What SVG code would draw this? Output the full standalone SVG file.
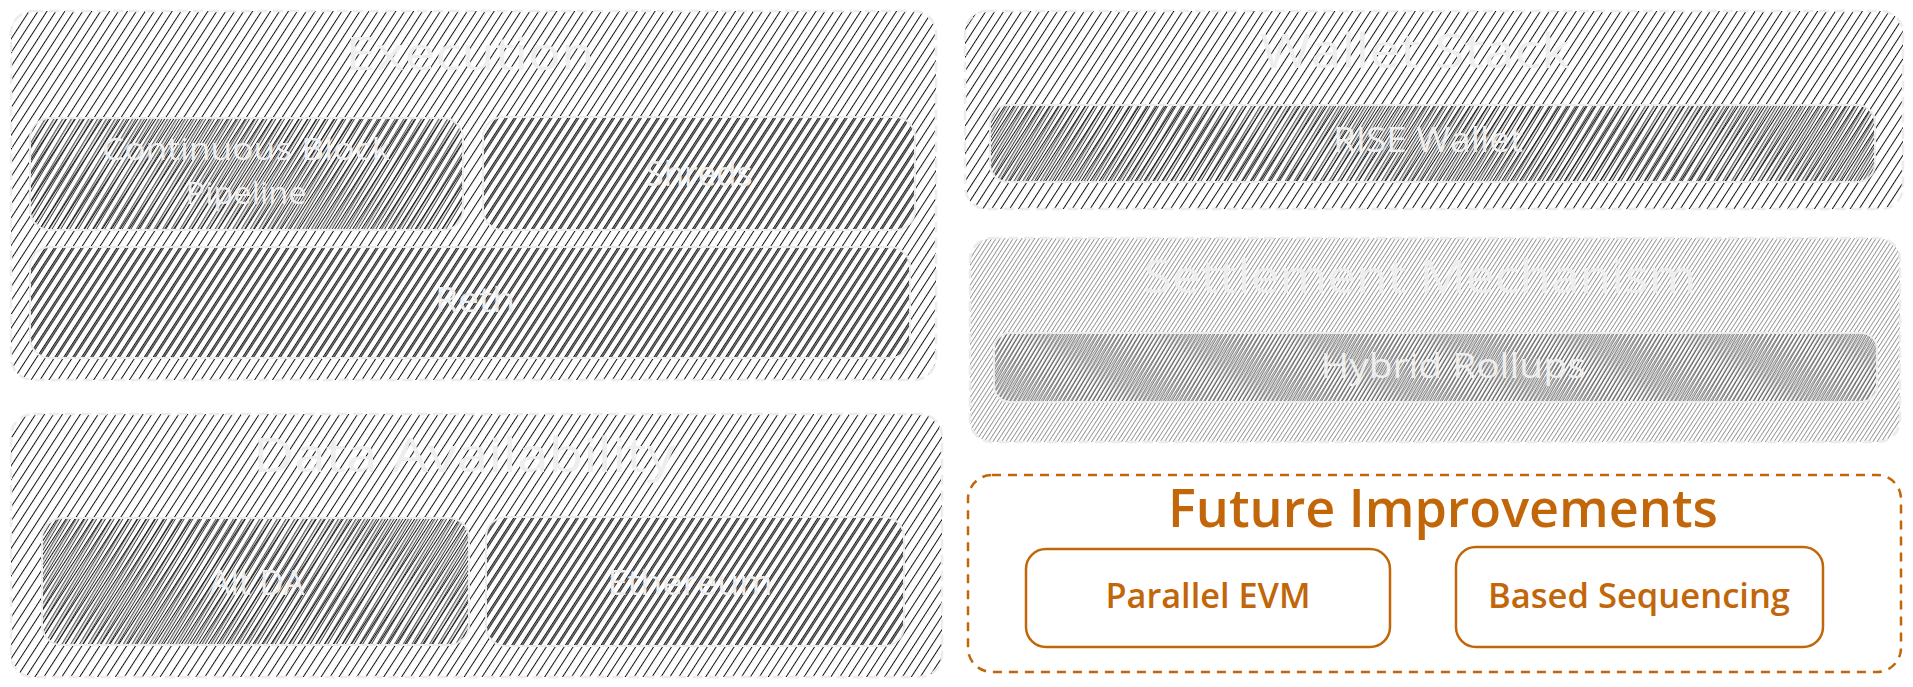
<svg xmlns="http://www.w3.org/2000/svg" width="1913" height="687" viewBox="0 0 1913 687">
<defs>
<pattern id="hA" patternUnits="userSpaceOnUse" width="7.5" height="20" patternTransform="rotate(33)">
<line x1="0.5" y1="0" x2="0.5" y2="20" stroke="#111" stroke-width="1"/>
</pattern>
<pattern id="hB" patternUnits="userSpaceOnUse" width="7.5" height="20" patternTransform="rotate(31)">
<line x1="2.6" y1="0" x2="2.6" y2="20" stroke="#111" stroke-width="0.9"/>
<line x1="5.1" y1="0" x2="5.1" y2="20" stroke="#222" stroke-width="0.9"/>
</pattern>
<pattern id="hC" patternUnits="userSpaceOnUse" width="7.5" height="20" patternTransform="rotate(33)">
<line x1="2" y1="0" x2="2" y2="20" stroke="#111" stroke-width="1.3"/>
</pattern>
<pattern id="hS" patternUnits="userSpaceOnUse" width="3.6" height="20" patternTransform="rotate(33)">
<line x1="0.5" y1="0" x2="0.5" y2="20" stroke="#888" stroke-width="0.9"/>
</pattern>
<pattern id="hH" patternUnits="userSpaceOnUse" width="3.6" height="20" patternTransform="rotate(30)">
<line x1="2" y1="0" x2="2" y2="20" stroke="#444" stroke-width="0.9"/>
</pattern>
</defs>
<style>
.grp{stroke:#ececec;stroke-width:2.5;stroke-dasharray:10 6}
.node{stroke:#ececec;stroke-width:2}
.t{font-family:"Open Sans","Liberation Sans",sans-serif;fill:#eeeeee;text-anchor:middle}
.o{font-family:"Open Sans","Liberation Sans",sans-serif;fill:#c2660a;text-anchor:middle}
.fgrp{fill:#fff;stroke:#c2660a;stroke-width:2.5;stroke-dasharray:9 7}
.fnode{fill:#fff;stroke:#c2660a;stroke-width:2.5}
</style>
<g id="connectors"/>
<g id="execution">
<rect x="11" y="11" width="925" height="369" rx="22" fill="url(#hA)" class="grp"/>
<text x="470" y="70" class="t" font-size="46" textLength="249" lengthAdjust="spacingAndGlyphs">Execution</text>
</g>
<g id="continuous-block-pipeline">
<rect x="30" y="118" width="433" height="112" rx="20" fill="url(#hB)" class="node"/>
<text x="246" y="160" class="t" font-size="31" textLength="288" lengthAdjust="spacingAndGlyphs">Continuous Block</text>
<text x="246" y="204" class="t" font-size="31" textLength="121" lengthAdjust="spacingAndGlyphs">Pipeline</text>
</g>
<g id="shreds">
<rect x="483" y="117" width="432" height="113" rx="20" fill="url(#hC)" class="node"/>
<text x="699" y="186" class="t" font-size="34" textLength="107" lengthAdjust="spacingAndGlyphs">Shreds</text>
</g>
<g id="reth">
<rect x="30" y="247" width="880" height="111" rx="20" fill="url(#hC)" class="node"/>
<text x="475" y="312" class="t" font-size="34" textLength="80" lengthAdjust="spacingAndGlyphs">Reth</text>
</g>
<g id="data-availability">
<rect x="11" y="414" width="931" height="263" rx="22" fill="url(#hA)" class="grp"/>
<text x="464" y="472" class="t" font-size="48" textLength="422" lengthAdjust="spacingAndGlyphs">Data Availability</text>
</g>
<g id="alt-da">
<rect x="42" y="518" width="427" height="127" rx="20" fill="url(#hB)" class="node"/>
<text x="257" y="595" class="t" font-size="34" textLength="95" lengthAdjust="spacingAndGlyphs">Alt DA</text>
</g>
<g id="ethereum">
<rect x="486" y="517" width="418" height="129" rx="20" fill="url(#hC)" class="node"/>
<text x="690" y="595" class="t" font-size="34" textLength="165" lengthAdjust="spacingAndGlyphs">Ethereum</text>
</g>
<g id="wallet-stack">
<rect x="965" y="11" width="938" height="198" rx="22" fill="url(#hA)" class="grp"/>
<text x="1415" y="68" class="t" font-size="48" textLength="310" lengthAdjust="spacingAndGlyphs">Wallet Stack</text>
</g>
<g id="rise-wallet">
<rect x="990" y="105" width="885" height="77" rx="18" fill="url(#hB)" class="node"/>
<text x="1428" y="152" class="t" font-size="34" textLength="190" lengthAdjust="spacingAndGlyphs">RISE Wallet</text>
</g>
<g id="settlement-mechanism">
<rect x="970" y="238" width="930" height="204" rx="22" fill="url(#hS)" class="grp"/>
<text x="1420" y="293" class="t" font-size="46" textLength="553" lengthAdjust="spacingAndGlyphs">Settlement Mechanism</text>
</g>
<g id="hybrid-rollups">
<rect x="994" y="333" width="883" height="69" rx="16" fill="url(#hH)" class="node"/>
<text x="1453" y="378" class="t" font-size="34" textLength="265" lengthAdjust="spacingAndGlyphs">Hybrid Rollups</text>
</g>
<g id="future-improvements">
<rect x="968" y="475" width="933" height="197" rx="24" class="fgrp"/>
<text x="1443" y="527" class="o" font-size="52" font-weight="600" textLength="550" lengthAdjust="spacingAndGlyphs">Future Improvements</text>
</g>
<g id="parallel-evm">
<rect x="1026" y="549" width="364" height="98" rx="20" class="fnode"/>
<text x="1208" y="608" class="o" font-size="34" font-weight="600" textLength="205" lengthAdjust="spacingAndGlyphs">Parallel EVM</text>
</g>
<g id="based-sequencing">
<rect x="1456" y="547" width="367" height="100" rx="20" class="fnode"/>
<text x="1639" y="608" class="o" font-size="34" font-weight="600" textLength="302" lengthAdjust="spacingAndGlyphs">Based Sequencing</text>
</g>
</svg>
